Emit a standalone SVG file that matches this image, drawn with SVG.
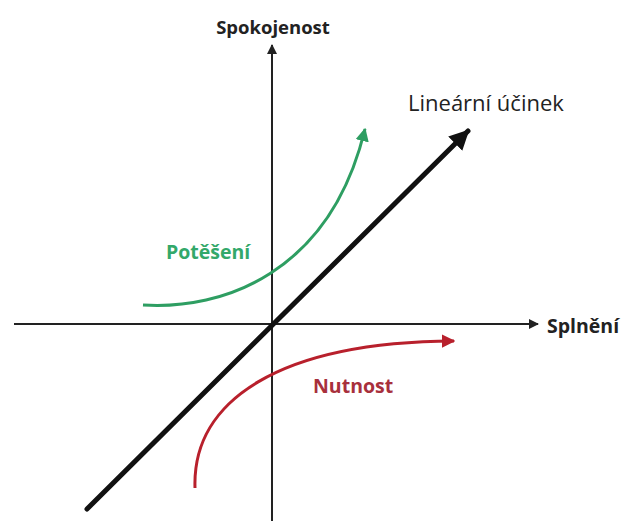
<svg xmlns="http://www.w3.org/2000/svg" width="626" height="521" viewBox="0 0 626 521">
<style>
.lbl{font-family:"Open Sans","Noto Sans","Liberation Sans",sans-serif;font-weight:bold;font-size:19.5px;fill:#222}
.axis{stroke:#222;stroke-width:2;fill:none}
</style>
<defs>
<marker id="ah" viewBox="0 0 10 10" refX="9" refY="5" markerWidth="5" markerHeight="5" orient="auto" markerUnits="strokeWidth"><path d="M0,0 L10,5 L0,10 z" fill="#222"/></marker>
<marker id="ahd" viewBox="0 0 10 10" refX="9" refY="5" markerWidth="4" markerHeight="4" orient="auto" markerUnits="strokeWidth"><path d="M0,0 L10,5 L0,10 z" fill="#111"/></marker>
<marker id="ahg" viewBox="0 0 10 10" refX="9" refY="5" markerWidth="4.5" markerHeight="4.5" orient="auto" markerUnits="strokeWidth"><path d="M0,0 L10,5 L0,10 z" fill="#2e9e62"/></marker>
<marker id="ahr" viewBox="0 0 10 10" refX="9" refY="5" markerWidth="4.5" markerHeight="4.5" orient="auto" markerUnits="strokeWidth"><path d="M0,0 L10,5 L0,10 z" fill="#b8202c"/></marker>
</defs>
<rect width="626" height="521" fill="#fff"/>
<g id="connectors">
<line class="axis" x1="272" y1="521" x2="272" y2="45" marker-end="url(#ah)"/>
<line class="axis" x1="14" y1="324" x2="538" y2="324" marker-end="url(#ah)"/>
<line x1="87" y1="509" x2="468" y2="131" stroke="#111" stroke-width="5" stroke-linecap="round" marker-end="url(#ahd)"/>
<path d="M143,305 C222,310 330,274 365,129" fill="none" stroke="#2e9e62" stroke-width="3" marker-end="url(#ahg)"/>
<path d="M195,488 C192,400 280,342 454,341" fill="none" stroke="#b8202c" stroke-width="3" marker-end="url(#ahr)"/>
</g>
<g id="spokojenost"><text class="lbl" x="273" y="34" text-anchor="middle" style="font-size:18.5px">Spokojenost</text></g>
<g id="splneni"><text class="lbl" x="547" y="333">Splnění</text></g>
<g id="linearni"><text x="408" y="111" font-family="'Open Sans','Noto Sans','Liberation Sans',sans-serif" font-size="22" fill="#222">Lineární účinek</text></g>
<g id="poteseni"><text class="lbl" x="166" y="259" style="fill:#33a86a">Potěšení</text></g>
<g id="nutnost"><text class="lbl" x="313" y="393" style="fill:#a8303c">Nutnost</text></g>
</svg>
